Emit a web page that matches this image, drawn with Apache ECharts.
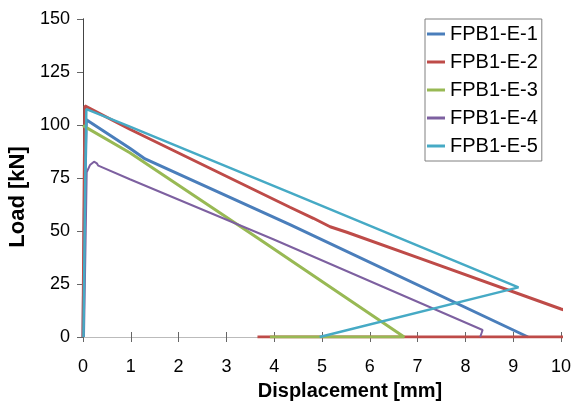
<!DOCTYPE html>
<html>
<head>
<meta charset="utf-8">
<script src="https://cdn.jsdelivr.net/npm/echarts@6/dist/echarts.min.js"></script>
<style>html,body{margin:0;padding:0;background:#fff}#c{width:582px;height:405px}</style>
</head>
<body>
<div id="c"></div>
<script>
const seriesNames = ['FPB1-E-1', 'FPB1-E-2', 'FPB1-E-3', 'FPB1-E-4', 'FPB1-E-5'];
const seriesColors = ['#4A7EBB', '#BE4B48', '#98B954', '#7D60A0', '#46AAC5'];
const seriesWidths = [3, 3, 3, 2, 2.5];

const e1X = [0, 0.03, 0.07, 0.98, 1.3, 4.33, 9.31];
const e1Y = [0, 60, 102.5, 89, 84, 53, 0];

const e2X = [0, 0.02, 0.04, 0.98, 4.33, 4.82, 5.17, 5.52, 7.05, 10, 11.7, 3.65];
const e2Y = [0, 60, 109, 98, 61.2, 56, 52, 49.4, 37.1, 13.2, 0, 0];

const e3X = [0, 0.98, 3.7, 6.72, 3.91];
const e3Y = [99.7, 86.9, 46, 0, 0];

const e4X = [0.02, 0.05, 0.077, 0.146, 0.23, 0.29, 0.32, 0.98, 3.98, 8.36, 8.31];
const e4Y = [0, 40, 77.7, 81.1, 82.7, 81.9, 80.8, 74.4, 46.1, 3.3, 0];

const e5X = [0.01, 0.05, 0.07, 0.1, 0.98, 4.33, 9.11, 4.95];
const e5Y = [0, 80, 107.5, 107, 99.2, 68.1, 23.4, 0];

const xTicks = {min: 0, max: 10, interval: 1};
const yTicks = {min: 0, max: 150, interval: 25};

const allX = [e1X, e2X, e3X, e4X, e5X];
const allY = [e1Y, e2Y, e3Y, e4Y, e5Y];

const font = "'Liberation Sans', Arial, sans-serif";

const series = seriesNames.map((name, i) => ({
  name: name,
  type: 'line',
  xAxisIndex: 0,
  yAxisIndex: 0,
  showSymbol: false,
  symbol: 'none',
  clip: true,
  lineStyle: {color: seriesColors[i], width: seriesWidths[i]},
  itemStyle: {color: seriesColors[i]},
  data: allX[i].map((x, j) => [x, allY[i][j]])
}));

const chart = echarts.init(document.getElementById('c'), null, {renderer: 'canvas'});
chart.setOption({
  animation: false,
  backgroundColor: '#fff',
  grid: {left: 83, right: 21, top: 19, bottom: 68, containLabel: false, outerBoundsMode: 'none'},
  legend: {
    orient: 'vertical',
    left: 425,
    top: 19,
    padding: [5, 4, 5, 2],
    itemGap: 8,
    itemWidth: 18,
    itemHeight: 3,
    icon: 'rect',
    borderColor: '#808080',
    borderWidth: 1,
    backgroundColor: '#fff',
    textStyle: {fontFamily: font, fontSize: 20, color: '#000'},
    data: seriesNames
  },
  xAxis: [
    {
      type: 'value', position: 'bottom',
      min: xTicks.min, max: xTicks.max, interval: xTicks.interval,
      name: 'Displacement [mm]', nameLocation: 'middle', nameGap: 44,
      nameTextStyle: {fontFamily: font, fontSize: 20, fontWeight: 'bold', color: '#000', padding: [0, 0, 0, 56]},
      axisLine: {show: true, onZero: false, lineStyle: {color: '#555', width: 1}},
      axisTick: {show: true, inside: false, length: 5, lineStyle: {color: '#666'}},
      axisLabel: {fontFamily: font, fontSize: 18, color: '#000', margin: 21},
      splitLine: {show: false}
    },
    {
      type: 'value', position: 'bottom',
      min: xTicks.min, max: xTicks.max, interval: xTicks.interval,
      axisLine: {show: false},
      axisTick: {show: true, inside: true, length: 5, lineStyle: {color: '#666'}},
      axisLabel: {show: false},
      splitLine: {show: false}
    },
    {
      type: 'value', position: 'top',
      min: xTicks.min, max: xTicks.max, interval: xTicks.interval,
      axisLine: {show: true, lineStyle: {color: '#bbb', width: 1}},
      axisTick: {show: false},
      axisLabel: {show: false},
      splitLine: {show: false}
    }
  ],
  yAxis: [
    {
      type: 'value', position: 'left',
      min: yTicks.min, max: yTicks.max, interval: yTicks.interval,
      name: 'Load [kN]', nameLocation: 'middle', nameGap: 50,
      nameTextStyle: {fontFamily: font, fontSize: 22, fontWeight: 'bold', color: '#000', padding: [0, 38, 0, 0]},
      axisLine: {show: true, onZero: false, lineStyle: {color: '#444', width: 1}},
      axisTick: {show: true, inside: false, length: 6, lineStyle: {color: '#666'}},
      axisLabel: {fontFamily: font, fontSize: 18, color: '#000', margin: 13},
      splitLine: {show: false}
    },
    {
      type: 'value', position: 'right',
      min: yTicks.min, max: yTicks.max, interval: yTicks.interval,
      axisLine: {show: true, lineStyle: {color: '#444', width: 1}},
      axisTick: {show: false},
      axisLabel: {show: false},
      splitLine: {show: false}
    }
  ],
  series: series
});
</script>
</body>
</html>
